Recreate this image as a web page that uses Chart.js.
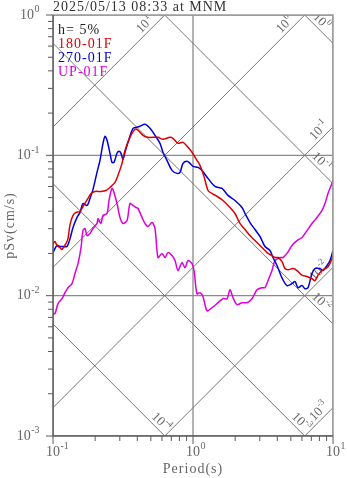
<!DOCTYPE html>
<html>
<head>
<meta charset="utf-8">
<title>pSv response spectra</title>
<script src="https://cdn.jsdelivr.net/npm/chart.js@4.4.1/dist/chart.umd.min.js"></script>
<style>
  html, body { margin: 0; padding: 0; background: #fff; }
  #wrap { position: relative; width: 347px; height: 478px; }
</style>
</head>
<body>
<div id="wrap"><canvas id="spec"></canvas></div>
<script>
const titleText = '2025/05/13 08:33 at MNM';
const dampingText = 'h= 5%';
const xTitle = 'Period(s)';
const yTitle = 'pSv(cm/s)';

// 180-01F component: period (s) / pSv (cm/s)
const nsPeriod = [0.1, 0.1033, 0.1068, 0.1122, 0.116, 0.1198, 0.1238, 0.128, 0.1323, 0.139,
  0.1459, 0.156, 0.1638, 0.1778, 0.1868, 0.1995, 0.2202, 0.2391, 0.2554, 0.2773,
  0.2913, 0.3111, 0.3268, 0.3548, 0.3853, 0.4047, 0.4394, 0.4771, 0.5623, 0.6105,
  0.685, 0.7197, 0.7814, 0.8483, 0.9211, 0.9837, 1.068, 1.122, 1.198, 1.28,
  1.367, 1.484, 1.638, 1.838, 1.995, 2.166, 2.352, 2.554, 2.773, 3.01,
  3.268, 3.434, 3.667, 3.853, 4.047, 4.322, 4.541, 4.771, 5.179, 5.534,
  6.005, 6.52, 7.079, 7.438, 7.814, 8.483, 9.06, 9.519, 10];
const nsSv = [0.0235, 0.0243, 0.0228, 0.022, 0.0213, 0.0224, 0.0235, 0.0255, 0.0321, 0.0373,
  0.0392, 0.0398, 0.0432, 0.0493, 0.0535, 0.0553, 0.0553, 0.0562, 0.0591, 0.0641,
  0.072, 0.0877, 0.1085, 0.1344, 0.1533, 0.1509, 0.1389, 0.1344, 0.1344, 0.1301,
  0.1344, 0.1322, 0.1218, 0.1238, 0.114, 0.1051, 0.0921, 0.0848, 0.0708, 0.0562,
  0.0535, 0.051, 0.0477, 0.0425, 0.0385, 0.0327, 0.0296, 0.0268, 0.0247, 0.0228,
  0.021, 0.02, 0.0193, 0.0187, 0.0187, 0.0175, 0.0156, 0.0153, 0.0156, 0.0151,
  0.014, 0.0137, 0.0132, 0.0128, 0.014, 0.0153, 0.0158, 0.017, 0.0193];

// 270-01F component
const ewPeriod = [0.1, 0.1068, 0.1122, 0.1179, 0.1259, 0.1323, 0.139, 0.1484, 0.156, 0.1638,
  0.175, 0.1838, 0.1931, 0.2062, 0.2166, 0.2276, 0.2352, 0.2431, 0.2554, 0.2639,
  0.2727, 0.2865, 0.2961, 0.306, 0.3162, 0.3268, 0.3434, 0.3728, 0.3981, 0.4182,
  0.4541, 0.4931, 0.5354, 0.5811, 0.6105, 0.652, 0.7079, 0.7686, 0.8075, 0.8483,
  0.906, 0.9519, 1.0, 1.086, 1.16, 1.28, 1.436, 1.611, 1.778, 1.995,
  2.239, 2.352, 2.554, 2.773, 3.01, 3.268, 3.548, 3.728, 3.981, 4.322,
  4.693, 5.095, 5.354, 5.623, 6.005, 6.31, 6.629, 7.079, 7.438, 8.075,
  8.483, 9.06, 9.519, 10];
const ewSv = [0.0203, 0.0228, 0.0224, 0.0224, 0.0224, 0.0255, 0.0306, 0.0361, 0.0392, 0.0454,
  0.0439, 0.0493, 0.0572, 0.0756, 0.0921, 0.1218, 0.1367, 0.128, 0.1034, 0.0891,
  0.0891, 0.1034, 0.1068, 0.1034, 0.0936, 0.1051, 0.1238, 0.1559, 0.1585, 0.1611,
  0.1664, 0.1559, 0.1389, 0.1218, 0.1051, 0.0921, 0.0781, 0.0744, 0.0756, 0.0877,
  0.0906, 0.0877, 0.0834, 0.0821, 0.0781, 0.0685, 0.0601, 0.0581, 0.0518, 0.0477,
  0.0425, 0.0385, 0.0332, 0.0296, 0.0264, 0.0224, 0.021, 0.0187, 0.0164, 0.0134,
  0.0118, 0.0122, 0.0126, 0.0114, 0.0118, 0.0112, 0.0114, 0.0144, 0.0156, 0.0156,
  0.0151, 0.0164, 0.0178, 0.021];

// UP-01F component
const udPeriod = [0.1, 0.1033, 0.1086, 0.116, 0.1218, 0.128, 0.1367, 0.1436, 0.1509, 0.1585,
  0.1638, 0.1693, 0.175, 0.1838, 0.1931, 0.2062, 0.2096, 0.2202, 0.2276, 0.2431,
  0.2512, 0.2639, 0.2727, 0.2865, 0.301, 0.3162, 0.3378, 0.3548, 0.3728, 0.3917,
  0.4047, 0.4322, 0.4541, 0.4771, 0.5095, 0.5354, 0.5623, 0.6005, 0.631, 0.6629,
  0.7079, 0.7438, 0.7814, 0.8345, 0.8767, 0.9211, 0.9837, 1.017, 1.068, 1.122,
  1.179, 1.259, 1.367, 1.509, 1.638, 1.75, 1.838, 1.931, 2.062, 2.239,
  2.431, 2.639, 2.865, 3.111, 3.268, 3.434, 3.667, 3.853, 4.182, 4.394,
  4.693, 5.095, 5.534, 6.005, 6.52, 7.079, 7.686, 8.345, 8.767, 9.211,
  9.837, 10];
const udSv = [0.00744, 0.00744, 0.00877, 0.00952, 0.0105, 0.0114, 0.0122, 0.0144, 0.0169, 0.022,
  0.0291, 0.0301, 0.0268, 0.0277, 0.0301, 0.0327, 0.0355, 0.0327, 0.0373, 0.0385,
  0.0477, 0.0581, 0.0544, 0.0454, 0.0361, 0.0327, 0.0343, 0.0454, 0.0439, 0.0425,
  0.0418, 0.0361, 0.0327, 0.0311, 0.0332, 0.0301, 0.0187, 0.02, 0.0187, 0.0203,
  0.0193, 0.0178, 0.0151, 0.0172, 0.0158, 0.0178, 0.0169, 0.0151, 0.0103, 0.0105,
  0.00984, 0.00781, 0.00821, 0.00891, 0.00952, 0.00952, 0.011, 0.00968, 0.00862, 0.00891,
  0.00891, 0.00952, 0.011, 0.0114, 0.0114, 0.0128, 0.0151, 0.0178, 0.0187, 0.0187,
  0.02, 0.0228, 0.0247, 0.026, 0.0291, 0.0327, 0.0361, 0.0405, 0.0454, 0.0535,
  0.0631, 0.066];

const seriesNames = ['180-01F', '270-01F', 'UP-01F'];
const seriesColors = ['#dd0000', '#0000dd', '#dd00dd'];
const seriesPeriods = [nsPeriod, ewPeriod, udPeriod];
const seriesSv = [nsSv, ewSv, udSv];

// axis decades and the constant-Sd / constant-Sa guide lines
const xDecades = [0.1, 1, 10];
const yDecades = [0.001, 0.01, 0.1, 1];
const dispLines = [1e-4, 1e-3, 1e-2, 1e-1, 1];  // cm
const accLines = [1e-3, 1e-2, 1e-1, 1, 10];     // cm/s^2

const SERIF = '"Liberation Serif", "DejaVu Serif", serif';
const TWO_PI = 2 * Math.PI;

// draws "10" with a raised exponent; anchor: 'center' | 'base' | 'right'
function drawPow(ctx, exp, x, y, size, anchor) {
  const big = size + 'px ' + SERIF;
  const small = Math.round(size * 0.68) + 'px ' + SERIF;
  const sup = String(exp);
  ctx.font = big;
  const w1 = ctx.measureText('10').width;
  ctx.font = small;
  const w2 = ctx.measureText(sup).width;
  let x0 = x - (w1 + w2) / 2;
  if (anchor === 'base') x0 = x - w1 / 2;
  if (anchor === 'right') x0 = x - w1 - w2;
  ctx.textAlign = 'left';
  ctx.textBaseline = 'middle';
  ctx.font = big;
  ctx.fillText('10', x0, y);
  ctx.font = small;
  ctx.fillText(sup, x0 + w1 + 0.5, y - size * 0.38);
}

const tripartite = {
  id: 'tripartite',
  beforeDatasetsDraw(chart) {
    const { ctx, chartArea: a, scales: { x, y } } = chart;
    ctx.save();
    ctx.beginPath();
    ctx.rect(a.left, a.top, a.right - a.left, a.bottom - a.top);
    ctx.clip();

    // decade grid
    ctx.strokeStyle = '#8a8a8a';
    ctx.lineWidth = 1.3;
    xDecades.forEach(v => {
      const px = x.getPixelForValue(v);
      ctx.beginPath(); ctx.moveTo(px, a.top); ctx.lineTo(px, a.bottom); ctx.stroke();
    });
    yDecades.forEach(v => {
      const py = y.getPixelForValue(v);
      ctx.beginPath(); ctx.moveTo(a.left, py); ctx.lineTo(a.right, py); ctx.stroke();
    });

    // diagonal lines: Sv = 2*pi*D/T and Sv = A*T/(2*pi)
    ctx.strokeStyle = '#777';
    ctx.lineWidth = 1;
    const seg = (f) => {
      ctx.beginPath();
      ctx.moveTo(x.getPixelForValue(0.01), y.getPixelForValue(f(0.01)));
      ctx.lineTo(x.getPixelForValue(100), y.getPixelForValue(f(100)));
      ctx.stroke();
    };
    dispLines.forEach(d => seg(t => TWO_PI * d / t));
    accLines.forEach(acc => seg(t => acc * t / TWO_PI));

    // line labels near the right-hand end of each diagonal
    ctx.fillStyle = '#666';
    ctx.letterSpacing = '0px';
    dispLines.forEach(d => {
      const tBottom = TWO_PI * d / 0.001;
      const atRight = tBottom >= 10;
      const tEnd = atRight ? 10 : tBottom;
      const ex = x.getPixelForValue(tEnd), ey = y.getPixelForValue(TWO_PI * d / tEnd);
      const back = atRight ? 17 : 9;
      const cx = ex - back + 5, cy = ey - back - 5;
      ctx.save();
      ctx.translate(cx, cy);
      ctx.rotate(Math.PI / 4);
      drawPow(ctx, Math.round(Math.log10(d)), 0, 0, 13, 'center');
      ctx.restore();
    });
    accLines.forEach(acc => {
      const tTop = TWO_PI / acc;
      const atRight = tTop >= 10;
      const tEnd = atRight ? 10 : tTop;
      const ex = x.getPixelForValue(tEnd), ey = y.getPixelForValue(acc * tEnd / TWO_PI);
      const back = atRight ? 9 : 15;
      const cx = ex - back - 5, cy = ey + back - 5;
      ctx.save();
      ctx.translate(cx, cy);
      ctx.rotate(-Math.PI / 4);
      drawPow(ctx, Math.round(Math.log10(acc)), 0, 0, 13, 'center');
      ctx.restore();
    });
    ctx.restore();
  },
  afterDraw(chart) {
    const { ctx, chartArea: a, scales: { x, y } } = chart;
    ctx.save();

    // frame
    ctx.lineWidth = 1.5;
    ctx.strokeStyle = '#9a9a9a';
    ctx.beginPath();
    ctx.moveTo(a.left, a.top); ctx.lineTo(a.right, a.top); ctx.lineTo(a.right, a.bottom);
    ctx.stroke();
    ctx.strokeStyle = '#5a5a5a';
    ctx.beginPath();
    ctx.moveTo(a.left, a.top); ctx.lineTo(a.left, a.bottom); ctx.lineTo(a.right, a.bottom);
    ctx.stroke();

    // ticks
    ctx.lineWidth = 1;
    for (let i = 0; i < xDecades.length; i++) {
      const d = xDecades[i];
      const px = x.getPixelForValue(d);
      ctx.beginPath(); ctx.moveTo(px, a.bottom); ctx.lineTo(px, a.bottom + 8); ctx.stroke();
      if (i < xDecades.length - 1) {
        for (let m = 2; m <= 9; m++) {
          const q = x.getPixelForValue(d * m);
          ctx.beginPath(); ctx.moveTo(q, a.bottom); ctx.lineTo(q, a.bottom + 5); ctx.stroke();
        }
      }
    }
    for (let i = 0; i < yDecades.length; i++) {
      const d = yDecades[i];
      const py = y.getPixelForValue(d);
      ctx.beginPath(); ctx.moveTo(a.left, py); ctx.lineTo(a.left - 7, py); ctx.stroke();
      if (i < yDecades.length - 1) {
        for (let m = 2; m <= 9; m++) {
          const q = y.getPixelForValue(d * m);
          ctx.beginPath(); ctx.moveTo(a.left, q); ctx.lineTo(a.left - 5, q); ctx.stroke();
        }
      }
    }

    // tick labels
    ctx.fillStyle = '#666';
    xDecades.forEach(v => {
      drawPow(ctx, Math.round(Math.log10(v)), x.getPixelForValue(v), a.bottom + 16, 14, 'base');
    });
    yDecades.forEach(v => {
      drawPow(ctx, Math.round(Math.log10(v)), a.left - 14, y.getPixelForValue(v), 14, 'right');
    });

    // axis titles
    ctx.letterSpacing = '1px';
    ctx.font = '14px ' + SERIF;
    ctx.textAlign = 'center';
    ctx.textBaseline = 'middle';
    ctx.fillText(xTitle, (a.left + a.right) / 2, a.bottom + 33);
    ctx.save();
    ctx.translate(10, (a.top + a.bottom) / 2);
    ctx.rotate(-Math.PI / 2);
    ctx.fillText(yTitle, 0, 0);
    ctx.restore();

    // title and legend text
    ctx.textAlign = 'left';
    ctx.textBaseline = 'alphabetic';
    ctx.font = '14px ' + SERIF;
    ctx.fillStyle = '#333';
    ctx.fillText(titleText, a.left, 11);
    ctx.fillStyle = '#222';
    ctx.fillText(dampingText, a.left + 5, 34);
    seriesNames.forEach((name, i) => {
      ctx.fillStyle = seriesColors[i];
      ctx.fillText(name, a.left + 5, 48 + i * 14);
    });
    ctx.restore();
  }
};

const chart = new Chart(document.getElementById('spec').getContext('2d'), {
  type: 'line',
  data: {
    datasets: seriesNames.map((name, i) => ({
      label: name,
      data: seriesPeriods[i].map((t, k) => ({ x: t, y: seriesSv[i][k] })),
      borderColor: seriesColors[i],
      borderWidth: 1.5,
      pointRadius: 0,
      tension: 0.3,
      fill: false
    }))
  },
  options: {
    responsive: true,
    maintainAspectRatio: false,
    animation: false,
    layout: { padding: { left: 53, right: 14, top: 15, bottom: 42 } },
    plugins: { legend: { display: false }, tooltip: { enabled: false } },
    scales: {
      x: { type: 'logarithmic', min: 0.1, max: 10, display: false },
      y: { type: 'logarithmic', min: 0.001, max: 1, display: false }
    }
  },
  plugins: [tripartite]
});
</script>
</body>
</html>
